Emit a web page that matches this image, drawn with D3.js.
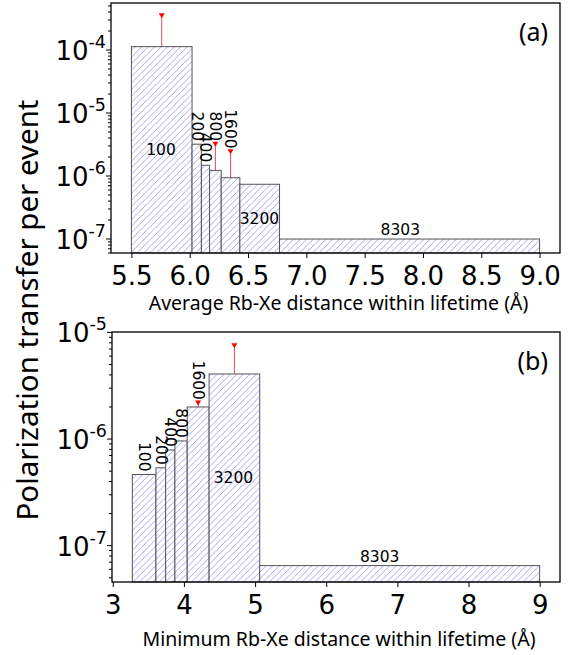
<!DOCTYPE html>
<html lang="en">
<head>
  <meta charset="utf-8">
  <title>Polarization transfer per event</title>
  <script src="https://cdn.jsdelivr.net/npm/d3@7"></script>
  <style>
    body { margin: 0; background: #fff; }
    .tick-label { font-family: "DejaVu Sans", sans-serif; font-size: 26px; }
    .axis-title { font-family: "Noto Sans", sans-serif; }
    .bar-label { font-family: "DejaVu Sans", sans-serif; font-size: 15.5px; }
  </style>
</head>
<body>
<script>
  // bin counts (same for both panels)
  var counts = ["100", "200", "400", "800", "1600", "3200", "8303"];

  // panel (a): average Rb-Xe distance
  var aEdges = [5.5, 6.02, 6.10, 6.17, 6.27, 6.43, 6.77, 9.0];
  var aValues = [1.13e-4, 3.2e-6, 1.48e-6, 1.23e-6, 9.4e-7, 7.4e-7, 1.0e-7];
  var aErrTop = [3.5e-4, null, null, 3.2e-6, 2.43e-6, null, null];
  var aXTicks = [5.5, 6.0, 6.5, 7.0, 7.5, 8.0, 8.5, 9.0];
  var aYTicks = [-4, -5, -6, -7];

  // panel (b): minimum Rb-Xe distance
  var bEdges = [3.275, 3.607, 3.743, 3.873, 4.046, 4.354, 5.065, 9.0];
  var bValues = [4.65e-7, 5.37e-7, 7.9e-7, 9.6e-7, 2.0e-6, 4.08e-6, 6.5e-8];
  var bErrTop = [null, null, null, null, 2.18e-6, 7.5e-6, null];
  var bXTicks = [3, 4, 5, 6, 7, 8, 9];
  var bYTicks = [-5, -6, -7];

  var width = 576;
  var height = 655;

  var svg = d3.select("body")
    .append("svg")
    .attr("width", width)
    .attr("height", height);

  // diagonal hatch like matplotlib's '///'
  var hs = 6.5;
  var pat = svg.append("defs").append("pattern")
    .attr("id", "hatch")
    .attr("patternUnits", "userSpaceOnUse")
    .attr("width", hs)
    .attr("height", hs);
  pat.append("rect").attr("width", hs).attr("height", hs).attr("fill", "#fff");
  pat.append("path")
    .attr("d", "M0," + hs + "L" + hs + ",0M" + (-hs / 2) + "," + (hs / 2) + "L" + (hs / 2) + "," + (-hs / 2) +
               "M" + (hs / 2) + "," + (hs * 1.5) + "L" + (hs * 1.5) + "," + (hs / 2))
    .attr("stroke", "#8585f2")
    .attr("stroke-width", 0.75);

  function drawPanel(p) {
    var g = svg.append("g");
    var x = d3.scaleLinear().domain(p.xDomain).range([p.left, p.right]);
    var y = d3.scaleLog().domain(p.yDomain).range([p.bottom, p.top]);

    var bars = p.values.map(function (v, i) {
      return { l: p.edges[i], r: p.edges[i + 1], v: v, err: p.err[i], label: counts[i] };
    });

    // error bars (only the upper part shows above the bar)
    bars.forEach(function (d) {
      if (d.err == null) return;
      var cx = x((d.l + d.r) / 2);
      g.append("line")
        .attr("x1", cx).attr("x2", cx)
        .attr("y1", y(d.v)).attr("y2", y(d.err))
        .attr("stroke", "#f04848")
        .attr("stroke-width", 1);
      var ty = y(d.err);
      g.append("path")
        .attr("d", "M" + (cx - 3) + "," + (ty - 2.5) + "L" + (cx + 3) + "," + (ty - 2.5) + "L" + cx + "," + (ty + 2.5) + "Z")
        .attr("fill", "#ff0000");
    });

    g.selectAll("rect.bar")
      .data(bars)
      .enter()
      .append("rect")
      .attr("class", "bar")
      .attr("x", function (d) { return x(d.l); })
      .attr("width", function (d) { return x(d.r) - x(d.l); })
      .attr("y", function (d) { return y(d.v); })
      .attr("height", function (d) { return p.bottom - y(d.v); })
      .attr("fill", "url(#hatch)")
      .attr("stroke", "#555")
      .attr("stroke-width", 1);

    // bar labels: narrow bars get rotated labels above, short bars a label on top,
    // the rest are labelled in the middle of the bar
    bars.forEach(function (d) {
      var lx = x(Math.sqrt(d.l * d.r));
      var w = x(d.r) - x(d.l);
      var top = y(d.v);
      var h = p.bottom - top;
      if (w < 30) {
        var yy = Math.min(top, d.err == null ? top : y(d.err)) - 3;
        g.append("text")
          .attr("class", "bar-label")
          .attr("transform", "translate(" + lx + "," + yy + ") rotate(90)")
          .attr("text-anchor", "end")
          .attr("dominant-baseline", "central")
          .text(d.label);
      } else if (h < 30) {
        g.append("text")
          .attr("class", "bar-label")
          .attr("x", lx).attr("y", top - 4)
          .attr("text-anchor", "middle")
          .text(d.label);
      } else {
        g.append("text")
          .attr("class", "bar-label")
          .attr("x", lx).attr("y", (top + p.bottom) / 2)
          .attr("text-anchor", "middle")
          .attr("dominant-baseline", "central")
          .text(d.label);
      }
    });

    // x axis
    var xAxis = d3.axisBottom(x).tickValues(p.xTicks).tickSize(5).tickPadding(9)
      .tickFormat(p.xFormat);
    var xg = g.append("g").attr("transform", "translate(0," + p.bottom + ")").call(xAxis);
    xg.select(".domain").remove();
    xg.selectAll("text").attr("class", "tick-label").attr("fill", "#000")
      .attr("font-size", null).attr("font-family", null);

    // y axis: minor ticks
    var lo = Math.floor(Math.log10(p.yDomain[0]));
    var hi = Math.ceil(Math.log10(p.yDomain[1]));
    var minor = [];
    for (var n = lo; n < hi; n++) {
      for (var k = 2; k <= 9; k++) {
        var v = k * Math.pow(10, n);
        if (v >= p.yDomain[0] && v <= p.yDomain[1]) minor.push(v);
      }
    }
    g.selectAll("line.minor")
      .data(minor)
      .enter()
      .append("line")
      .attr("x1", p.left - 3).attr("x2", p.left)
      .attr("y1", function (d) { return y(d); })
      .attr("y2", function (d) { return y(d); })
      .attr("stroke", "#000");

    p.yTicks.forEach(function (e) {
      var ty = y(Math.pow(10, e));
      g.append("line")
        .attr("x1", p.left - 5).attr("x2", p.left)
        .attr("y1", ty).attr("y2", ty)
        .attr("stroke", "#000");
      var t = g.append("text")
        .attr("class", "tick-label")
        .attr("x", p.left - 5)
        .attr("y", ty + 10)
        .attr("text-anchor", "end");
      t.append("tspan").text("10");
      t.append("tspan").attr("dy", -12).attr("font-size", 17.5).text("-" + (-e));
    });

    // frame
    g.append("rect")
      .attr("x", p.left).attr("y", p.top)
      .attr("width", p.right - p.left).attr("height", p.bottom - p.top)
      .attr("fill", "none")
      .attr("stroke", "#000")
      .attr("stroke-width", 1.3);

    g.append("text")
      .attr("class", "axis-title")
      .attr("x", (p.left + p.right) / 2 + 3)
      .attr("y", p.xTitleY)
      .attr("text-anchor", "middle")
      .attr("font-size", 19.5)
      .text(p.xTitle);

    g.append("text")
      .attr("class", "axis-title")
      .attr("x", p.right - 12)
      .attr("y", p.top + 38)
      .attr("text-anchor", "end")
      .attr("font-size", 25)
      .text(p.tag);
  }

  drawPanel({
    edges: aEdges, values: aValues, err: aErrTop,
    xTicks: aXTicks, yTicks: aYTicks,
    xFormat: d3.format(".1f"),
    xDomain: [5.325, 9.175], yDomain: [6.0e-8, 5.57e-4],
    left: 111, right: 560, top: 3, bottom: 253,
    xTitle: "Average Rb-Xe distance within lifetime (Å)", xTitleY: 310,
    tag: "(a)"
  });

  drawPanel({
    edges: bEdges, values: bValues, err: bErrTop,
    xTicks: bXTicks, yTicks: bYTicks,
    xFormat: d3.format("d"),
    xDomain: [2.989, 9.286], yDomain: [4.56e-8, 1.01e-5],
    left: 112, right: 560, top: 332, bottom: 582,
    xTitle: "Minimum Rb-Xe distance within lifetime (Å)", xTitleY: 646,
    tag: "(b)"
  });

  // shared y title
  svg.append("text")
    .attr("class", "axis-title")
    .attr("transform", "translate(38,310) rotate(-90)")
    .attr("text-anchor", "middle")
    .attr("font-size", 29.5)
    .text("Polarization transfer per event");
</script>
</body>
</html>
